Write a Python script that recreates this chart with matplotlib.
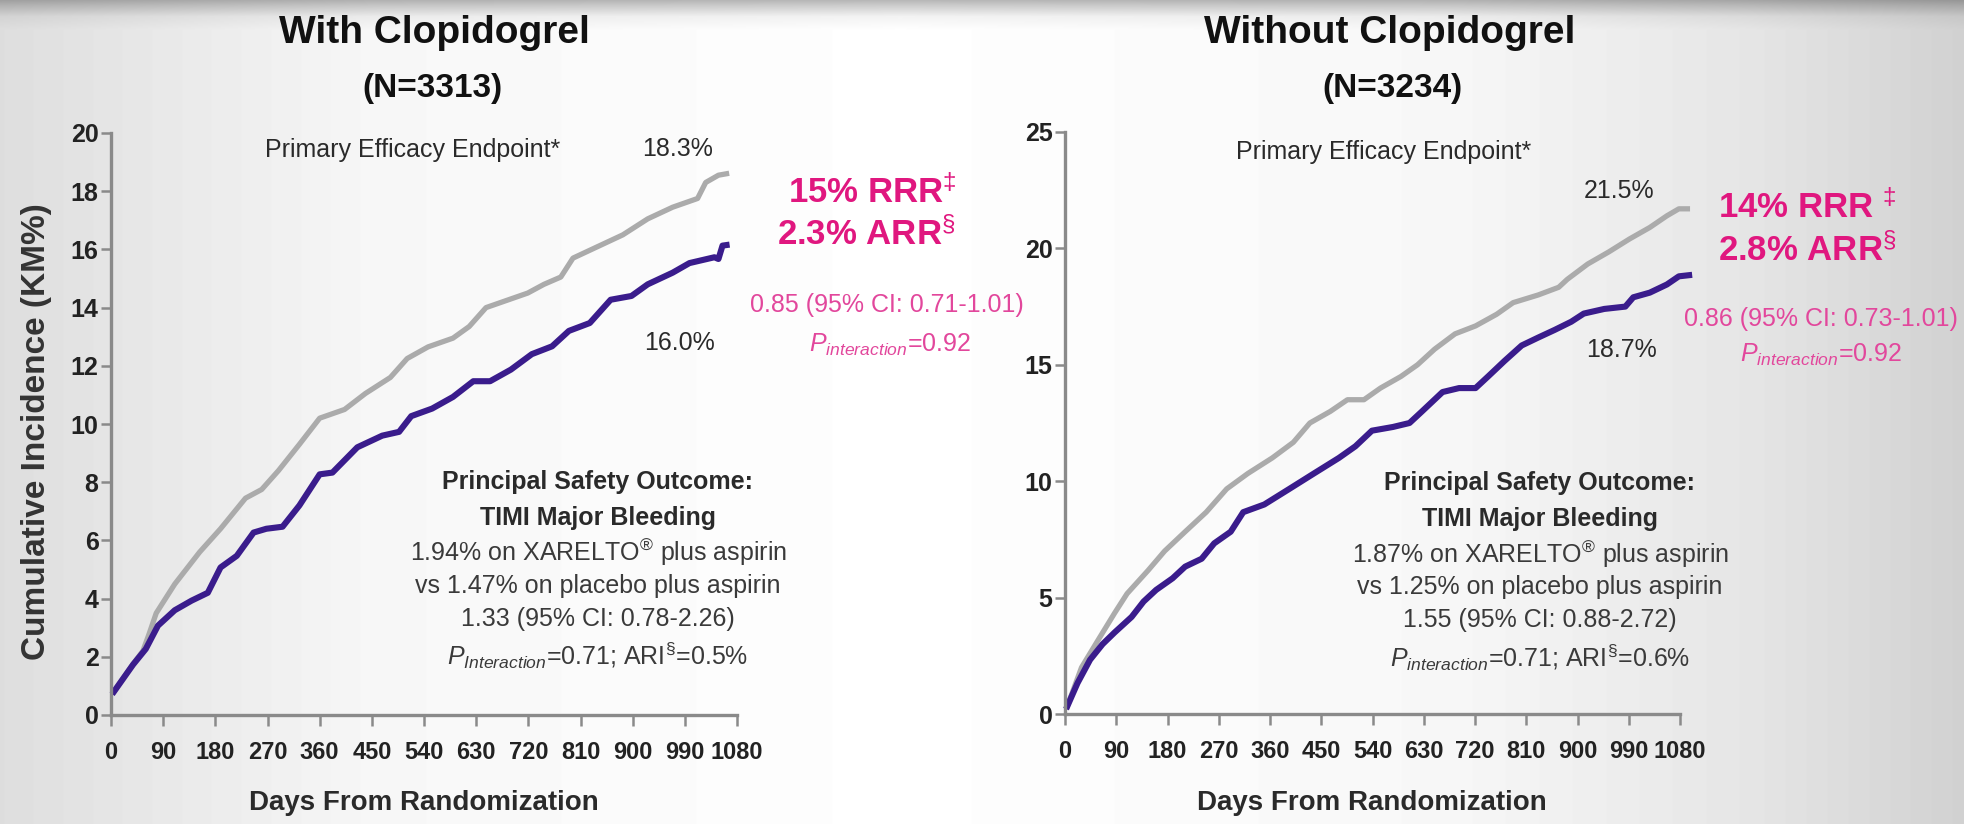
import numpy as np
import matplotlib
matplotlib.use("Agg")
import matplotlib.pyplot as plt

plt.rcParams['font.family'] = ['Liberation Sans', 'DejaVu Sans']
plt.rcParams['mathtext.fontset'] = 'custom'
plt.rcParams['mathtext.rm'] = 'Liberation Sans'
plt.rcParams['mathtext.it'] = 'Liberation Sans:italic'
plt.rcParams['mathtext.bf'] = 'Liberation Sans:bold'

# KM curves (days, cumulative incidence %)
with_pbo_days = [5, 38, 55, 66, 78, 110, 153, 189, 232, 260, 289, 325, 360, 403, 439, 482, 511,
                 547, 590, 618, 647, 683, 719, 747, 776, 797, 840, 883, 926, 969, 1012, 1026,
                 1048, 1062]
with_pbo = [0.8, 1.75, 2.2, 2.8, 3.5, 4.5, 5.6, 6.4, 7.45, 7.75, 8.4, 9.3, 10.2, 10.5, 11.05,
            11.6, 12.25, 12.65, 12.95, 13.35, 14.0, 14.25, 14.5, 14.8, 15.05, 15.7, 16.1, 16.5,
            17.05, 17.45, 17.75, 18.3, 18.55, 18.6]
with_riv_days = [5, 38, 60, 81, 110, 139, 167, 189, 217, 246, 268, 296, 325, 360, 382, 425, 468,
                 497, 518, 554, 590, 625, 654, 690, 726, 761, 790, 826, 862, 898, 926, 969, 998,
                 1041, 1048, 1055, 1062]
with_riv = [0.8, 1.73, 2.27, 3.07, 3.6, 3.93, 4.2, 5.07, 5.47, 6.27, 6.4, 6.47, 7.2, 8.27, 8.33,
            9.2, 9.6, 9.73, 10.27, 10.53, 10.93, 11.47, 11.47, 11.87, 12.4, 12.67, 13.2, 13.47,
            14.27, 14.4, 14.8, 15.2, 15.53, 15.73, 15.67, 16.13, 16.15]

wo_pbo_days = [4, 29, 58, 87, 109, 146, 175, 211, 248, 284, 321, 364, 401, 430, 466, 496, 525,
               554, 590, 619, 649, 685, 721, 758, 787, 831, 867, 882, 918, 955, 991, 1027, 1057,
               1078, 1093]
wo_pbo = [0.33, 2.0, 3.17, 4.33, 5.17, 6.17, 7.0, 7.83, 8.67, 9.67, 10.33, 11.0, 11.67, 12.5,
          13.0, 13.5, 13.5, 14.0, 14.5, 15.0, 15.67, 16.33, 16.67, 17.17, 17.67, 18.0, 18.33,
          18.67, 19.33, 19.85, 20.4, 20.9, 21.4, 21.7, 21.7]
wo_riv_days = [4, 22, 44, 66, 87, 117, 138, 160, 189, 211, 240, 262, 291, 313, 350, 394, 437, 481,
               510, 539, 576, 605, 627, 663, 692, 721, 743, 772, 802, 831, 860, 889, 911, 947, 984,
               998, 1027, 1057, 1078, 1096]
wo_riv = [0.33, 1.33, 2.33, 3.0, 3.5, 4.17, 4.83, 5.33, 5.83, 6.33, 6.67, 7.33, 7.83, 8.67, 9.0,
          9.67, 10.33, 11.0, 11.5, 12.17, 12.33, 12.5, 13.0, 13.83, 14.0, 14.0, 14.5, 15.17, 15.83,
          16.17, 16.5, 16.85, 17.2, 17.4, 17.5, 17.9, 18.1, 18.45, 18.8, 18.85]

x_ticks = list(range(0, 1081, 90))
left_yticks = list(range(0, 21, 2))
right_yticks = list(range(0, 26, 5))

titles = ["With Clopidogrel", "Without Clopidogrel"]
n_labels = ["(N=3313)", "(N=3234)"]
pbo_end = ["18.3%", "21.5%"]
riv_end = ["16.0%", "18.7%"]
rrr = ["15% RRR$^{‡}$", "14% RRR $^{‡}$"]
arr = ["2.3% ARR$^{§}$", "2.8% ARR$^{§}$"]
hr_eff = ["0.85 (95% CI: 0.71-1.01)", "0.86 (95% CI: 0.73-1.01)"]
safety = [
    ["1.94% on XARELTO$^{®}$ plus aspirin", "vs 1.47% on placebo plus aspirin",
     "1.33 (95% CI: 0.78-2.26)", "$P_{Interaction}$=0.71; ARI$^{§}$=0.5%"],
    ["1.87% on XARELTO$^{®}$ plus aspirin", "vs 1.25% on placebo plus aspirin",
     "1.55 (95% CI: 0.88-2.72)", "$P_{interaction}$=0.71; ARI$^{§}$=0.6%"],
]

W, H = 1964, 824
PINK = "#e0177f"
PINK_LIGHT = "#e2479c"
PURPLE = "#3a1c8c"
GREY = "#ababab"
AXC = "#8a8a8a"
TXT = "#2a2a2a"

fig = plt.figure(figsize=(W / 100, H / 100), dpi=100)

# soft slide background
bg_ax = fig.add_axes([0, 0, 1, 1], zorder=-10)
col = np.interp(np.arange(W), [0, 380, 900, 1450, 1750, 1964], [0.87, 0.97, 1.0, 0.97, 0.9, 0.82])
row = np.interp(np.arange(H), [0, 5, 16, 30, H], [0.72, 0.8, 0.95, 1.0, 1.0])
bg_ax.imshow(col[None, :] * row[:, None], cmap="gray", vmin=0, vmax=1, aspect="auto",
             extent=[0, 1, 0, 1])
bg_ax.axis("off")


def px_box(x0, y0, x1, y1):
    return [x0 / W, 1 - y1 / H, (x1 - x0) / W, (y1 - y0) / H]


def ftext(x, y, s, **kw):
    kw.setdefault("ha", "center")
    kw.setdefault("va", "center")
    fig.text(x / W, 1 - y / H, s, **kw)


axes = [fig.add_axes(px_box(111, 133, 737, 715)), fig.add_axes(px_box(1065, 132, 1680, 714))]
curves = [(with_pbo_days, with_pbo, with_riv_days, with_riv),
          (wo_pbo_days, wo_pbo, wo_riv_days, wo_riv)]
ylims = [20, 25]
yticks = [left_yticks, right_yticks]

for ax, (pd_, pv, rd, rv), ymax, yt in zip(axes, curves, ylims, yticks):
    ax.set_facecolor("none")
    ax.plot(pd_, pv, color=GREY, lw=3.8, solid_joinstyle="round", clip_on=False)
    ax.plot(rd, rv, color=PURPLE, lw=4.4, solid_joinstyle="round", clip_on=False)
    ax.set_xlim(0, 1080)
    ax.set_ylim(0, ymax)
    ax.set_xticks(x_ticks)
    ax.set_yticks(yt)
    for s in ["top", "right"]:
        ax.spines[s].set_visible(False)
    for s in ["left", "bottom"]:
        ax.spines[s].set_color(AXC)
        ax.spines[s].set_linewidth(2.4)
    ax.tick_params(axis="x", length=8, width=1.8, color=AXC, pad=11, labelsize=17,
                   labelcolor="#222222")
    ax.tick_params(axis="y", length=7, width=1.8, color=AXC, pad=2, labelsize=18,
                   labelcolor="#222222")
    for lab in ax.get_xticklabels() + ax.get_yticklabels():
        lab.set_fontweight("bold")

# y label
ftext(37, 432, "Cumulative Incidence (KM%)", rotation=90, fontsize=24, fontweight="bold",
      color="#333333")

centers = [(434, 598, 424), (1390, 1540, 1372)]
ylines = [[482, 518, 552, 586, 619, 655], [483, 519, 554, 587, 620, 657]]
for i in range(2):
    tx, sx, ax_cx = centers[i]
    ftext(tx, 33, titles[i], fontsize=28, fontweight="bold", color="#111111")
    ftext(tx - (2 if i == 0 else -2), 89, n_labels[i], fontsize=24, fontweight="bold",
          color="#111111")
    ftext(ax_cx, 803, "Days From Randomization", fontsize=20, fontweight="bold", color=TXT)
    ys = ylines[i]
    ftext(sx, ys[0], "Principal Safety Outcome:", fontsize=18, fontweight="bold", color=TXT)
    ftext(sx, ys[1], "TIMI Major Bleeding", fontsize=18, fontweight="bold", color=TXT)
    for line, yy in zip(safety[i], ys[2:]):
        ftext(sx, yy, line, fontsize=18, color="#3a3a3a")

# efficacy annotations
ftext(413, 150, "Primary Efficacy Endpoint*", fontsize=18, color=TXT)
ftext(1384, 152, "Primary Efficacy Endpoint*", fontsize=18, color=TXT)
ftext(678, 149, pbo_end[0], fontsize=18, color=TXT)
ftext(680, 343, riv_end[0], fontsize=18, color=TXT)
ftext(1619, 191, pbo_end[1], fontsize=18, color=TXT)
ftext(1621, 350, riv_end[1], fontsize=18, color=TXT)

ftext(872, 192, rrr[0], fontsize=25, fontweight="bold", color=PINK)
ftext(866, 234, arr[0], fontsize=25, fontweight="bold", color=PINK)
ftext(887, 305, hr_eff[0], fontsize=18, color=PINK_LIGHT)
ftext(890, 345, "$P_{interaction}$=0.92", fontsize=18, color=PINK_LIGHT)

ftext(1807, 207, rrr[1], fontsize=25, fontweight="bold", color=PINK)
ftext(1807, 250, arr[1], fontsize=25, fontweight="bold", color=PINK)
ftext(1821, 319, hr_eff[1], fontsize=18, color=PINK_LIGHT)
ftext(1821, 355, "$P_{interaction}$=0.92", fontsize=18, color=PINK_LIGHT)

fig.savefig("out.png", dpi=100)
